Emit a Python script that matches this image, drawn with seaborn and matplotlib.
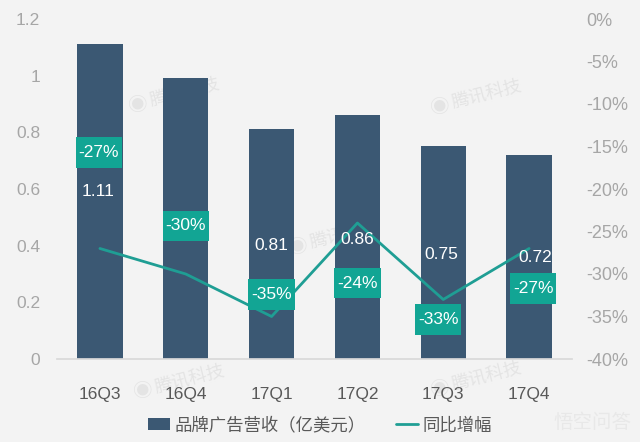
import matplotlib
matplotlib.use("Agg")
import matplotlib.pyplot as plt
import pandas as pd
import seaborn as sns

quarters = ["16Q3", "16Q4", "17Q1", "17Q2", "17Q3", "17Q4"]
revenue = [1.11, 0.99, 0.81, 0.86, 0.75, 0.72]
growth = [-27, -30, -35, -24, -33, -27]
y_ticks = [0, 0.2, 0.4, 0.6, 0.8, 1, 1.2]
y_labels = ["0", "0.2", "0.4", "0.6", "0.8", "1", "1.2"]
y2_ticks = [0, -5, -10, -15, -20, -25, -30, -35, -40]
y2_labels = ["0%", "-5%", "-10%", "-15%", "-20%", "-25%", "-30%", "-35%", "-40%"]

# label offsets from the mark, in pixels (hand tuned against the picture)
rev_offsets = [(-2, -147), None, (0, -116), (0, -124), (-2, -108), (6, -103)]
growth_offsets = [(-1, 96), (0, 48), (0, 22), (0, -60), (-5, -20), (4, -40)]

BG = "#f3f3f3"
BAR = "#3b5873"
TEAL = "#12a594"
LINE = "#1f9e94"

sns.set_theme(style="white")
plt.rcParams["font.family"] = ["Liberation Sans", "Noto Sans CJK SC", "DejaVu Sans"]

df = pd.DataFrame({"quarter": quarters, "revenue": revenue, "growth": growth})

fig = plt.figure(figsize=(6.4, 4.42), dpi=100, facecolor=BG)
ax = fig.add_axes([57 / 640, 1 - 359 / 442, 515 / 640, 340 / 442], facecolor="none")

sns.barplot(data=df, x="quarter", y="revenue", color=BAR, saturation=1, width=0.53, ax=ax,
            linewidth=0, label="品牌广告营收（亿美元）")
ax.legend_.remove()
ax.set_xlim(-0.5, 5.5)
ax.set_ylim(0, 1.2)
ax.set_yticks(y_ticks, y_labels)
ax.set_xlabel("")
ax.set_ylabel("")
ax.tick_params(axis="y", length=0, labelsize=12.5, labelcolor="#a6a6a6", pad=12)
ax.tick_params(axis="x", length=0, labelsize=12.5, labelcolor="#595959", pad=20)
sns.despine(ax=ax, left=True, top=True, right=True)
ax.spines["bottom"].set_color("#d9d9d9")

ax2 = ax.twinx()
sns.lineplot(x=range(len(growth)), y=growth, color=LINE, linewidth=2, ax=ax2, label="同比增幅")
ax2.set_ylim(-40, 0)
ax2.set_yticks(y2_ticks, y2_labels)
ax2.set_ylabel("")
ax2.tick_params(axis="y", length=0, labelsize=13, labelcolor="#a6a6a6", pad=10.5)
sns.despine(ax=ax2, left=True, top=True, right=True, bottom=True)

handles = ax.get_legend_handles_labels()[0] + ax2.get_legend_handles_labels()[0]
labels = ax.get_legend_handles_labels()[1] + ax2.get_legend_handles_labels()[1]
ax2.legend_.remove()

px = 72 / fig.dpi
for i, v in enumerate(revenue):
    if rev_offsets[i] is None:
        continue
    dx, dy = rev_offsets[i]
    ax2.annotate(f"{v:.2f}", xy=(i, v * 100 / 3 - 40), xytext=(dx * px, dy * px),
                 textcoords="offset points", ha="center", va="center",
                 color="white", fontsize=12.5, zorder=6)

for i, v in enumerate(growth):
    dx, dy = growth_offsets[i]
    ax2.annotate(f"{v}%", xy=(i, v), xytext=(dx * px, dy * px), textcoords="offset points",
                 ha="center", va="center", color="white", fontsize=12.5, zorder=7,
                 bbox=dict(boxstyle="square,pad=0.17", fc=TEAL, ec="none", mutation_aspect=2.6))

# faint watermarks sit behind the axes
for x, y in [(185, 93), (487, 95), (345, 235), (190, 380), (487, 377)]:
    fig.text(x / 640, 1 - y / 442, "腾讯科技", fontsize=13, color="#e4e4e4", rotation=14,
             ha="center", va="center", zorder=-1)
    fig.text((x - 47) / 640, 1 - (y + 13) / 442, "◉", fontsize=14, color="#e4e4e4",
             ha="center", va="center", zorder=-1)
fig.text(592 / 640, 1 - 423 / 442, "悟空问答", fontsize=14, color="#e8e8e8", ha="center", va="center")

fig.legend(handles, labels, loc="center", bbox_to_anchor=(320 / 640, 1 - 425 / 442), ncol=2,
           frameon=False, fontsize=12.5, labelcolor="#595959", columnspacing=1.8,
           handlelength=1.25, handletextpad=0.25)

fig.savefig("out.png", dpi=100, facecolor=BG)
